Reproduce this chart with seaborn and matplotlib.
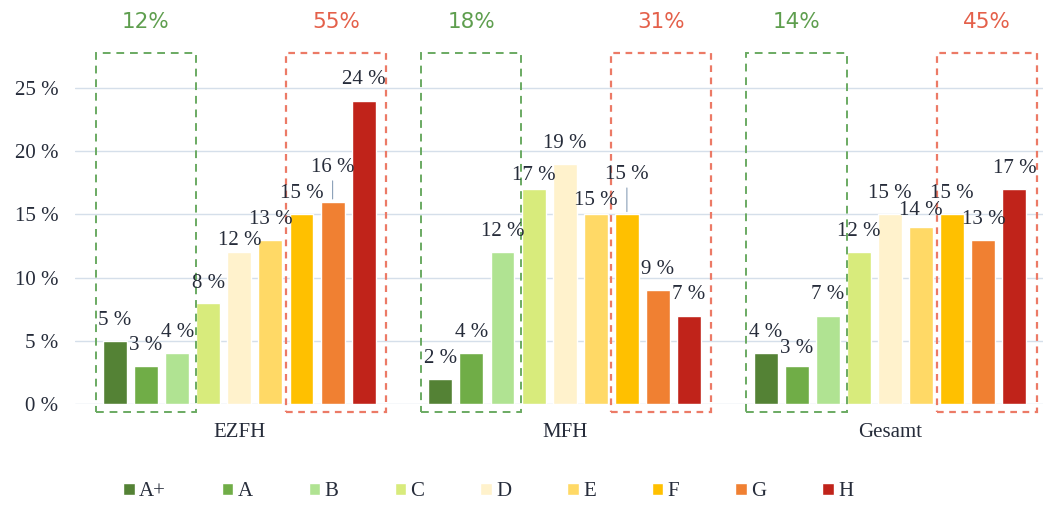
import pandas as pd
import seaborn as sns
import matplotlib.pyplot as plt
from matplotlib.patches import Rectangle

# data
groups = ['EZFH', 'MFH', 'Gesamt']
classes = ['A+', 'A', 'B', 'C', 'D', 'E', 'F', 'G', 'H']
ezfh = [5, 3, 4, 8, 12, 13, 15, 16, 24]
mfh = [2, 4, 12, 17, 19, 15, 15, 9, 7]
gesamt = [4, 3, 7, 12, 15, 14, 15, 13, 17]
green_share = ['12%', '18%', '14%']
red_share = ['55%', '31%', '45%']
colors = ['#548235', '#70ad47', '#b0e392', '#d8eb7c', '#fff2cc',
          '#ffd966', '#ffc000', '#f08032', '#c0231a']

rows = []
for g, vals in zip(groups, [ezfh, mfh, gesamt]):
    for c, v in zip(classes, vals):
        rows.append({'group': g, 'class': c, 'value': v})
df = pd.DataFrame(rows)

sns.set_style('white')
plt.rcParams['font.family'] = ['Liberation Serif', 'DejaVu Serif']
txt = '#262c3a'

fig = plt.figure(figsize=(10.43, 5.07), dpi=100)
ax = fig.add_axes([75 / 1043, 103 / 507, 968 / 1043, 354 / 507])

sns.barplot(data=df, x='group', y='value', hue='class', hue_order=classes,
            palette=colors, width=0.86, gap=0.23, saturation=1, ax=ax)

ax.set_xlim(-0.505, 2.47)
ax.set_ylim(0, 28)
ax.set_yticks([0, 5, 10, 15, 20, 25])
ax.set_yticklabels([f'{t} %' for t in [0, 5, 10, 15, 20, 25]])
ax.yaxis.grid(True, color='#d5dfea', linewidth=1)
ax.set_axisbelow(True)
for s in ax.spines.values():
    s.set_visible(False)
ax.tick_params(axis='both', length=0, labelsize=15, colors=txt)
ax.tick_params(axis='x', pad=14)
ax.tick_params(axis='y', pad=12)
ax.set_xlabel('')
ax.set_ylabel('')

# data labels, a few lifted like in the original (group index, class index): extra points
lift = {(0, 3): -1, (0, 4): -6, (0, 7): 10, (1, 3): -5, (1, 5): -5, (1, 6): 14,
        (2, 1): -2, (2, 5): -3}
for k, cont in enumerate(ax.containers):
    for gi, bar in enumerate(cont):
        x = bar.get_x() + bar.get_width() / 2
        h = bar.get_height()
        dy = 8 + lift.get((gi, k), 0)
        ax.annotate(f'{int(h)} %', (x, h), xytext=(0, dy), textcoords='offset points',
                    ha='center', va='bottom', fontsize=15, color=txt,
                    annotation_clip=False)
        if lift.get((gi, k), 0) > 5:
            ax.annotate('', (x, h), xytext=(0, dy - 1), textcoords='offset points',
                        arrowprops=dict(arrowstyle='-', color='#8aa0b8', lw=0.8),
                        annotation_clip=False)

# dashed boxes around best (A+..B) and worst (F..H) classes
step = ax.containers[1][0].get_x() - ax.containers[0][0].get_x()
for gi in range(len(groups)):
    xs = [ax.containers[k][gi].get_x() + ax.containers[k][gi].get_width() / 2
          for k in range(len(classes))]
    gl, gr = xs[0] - 0.62 * step, xs[2] + 0.6 * step
    rl, rr = xs[6] - 0.5 * step, xs[8] + 0.72 * step
    ax.add_patch(Rectangle((gl, -0.6), gr - gl, 28.4, fill=False,
                           edgecolor='#6aaa62', linestyle=(0, (4, 3)),
                           linewidth=1.4, clip_on=False))
    ax.add_patch(Rectangle((rl, -0.6), rr - rl, 28.4, fill=False,
                           edgecolor='#ec7a66', linestyle=(0, (3, 2.5)),
                           linewidth=1.6, clip_on=False))
    ax.text((gl + gr) / 2, 30.2, green_share[gi], ha='center', va='center',
            fontsize=15.5, color='#5e9e4e', family='DejaVu Sans', clip_on=False)
    ax.text((rl + rr) / 2, 30.2, red_share[gi], ha='center', va='center',
            fontsize=15.5, color='#e4604a', family='DejaVu Sans', clip_on=False)

handles, labels = ax.get_legend_handles_labels()
ax.get_legend().remove()
fig.legend(handles, labels, loc='center', bbox_to_anchor=(0.468, 0.03),
           ncol=9, frameon=False, fontsize=15, handlelength=0.55,
           handleheight=0.55, handletextpad=0.2, columnspacing=2.7,
           labelcolor=txt)

plt.savefig('out.png', dpi=100)
plt.close()
